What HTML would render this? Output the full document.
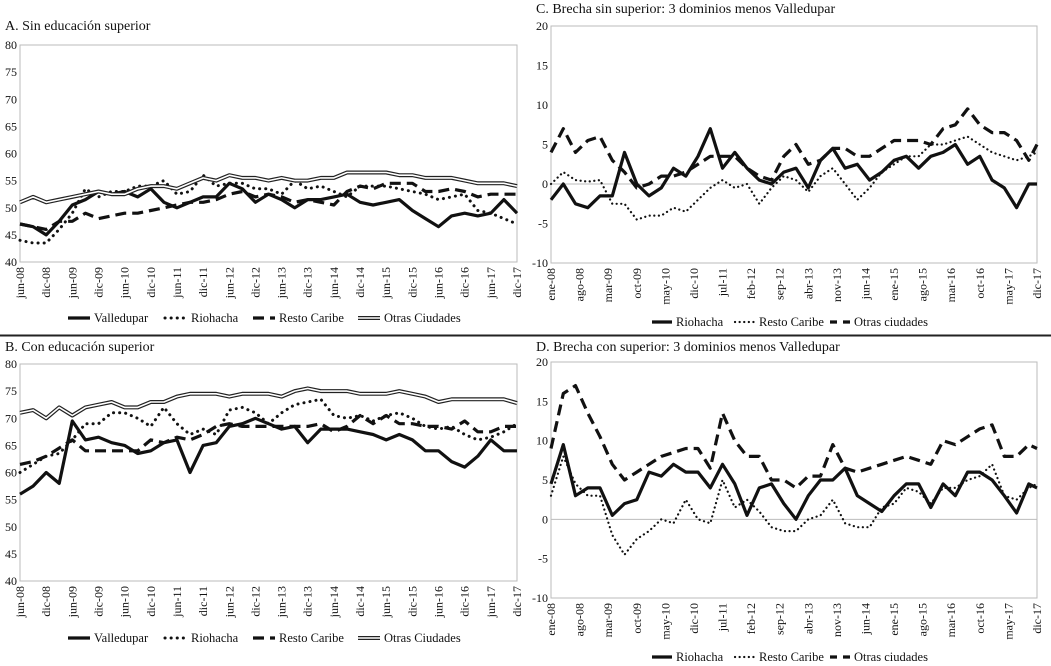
<!DOCTYPE html>
<html><head><meta charset="utf-8"><style>
body{margin:0;background:#fff;}
svg{display:block;font-family:"Liberation Serif",serif;}
</style></head><body>
<svg id="chart" width="1051" height="666" viewBox="0 0 1051 666" xmlns="http://www.w3.org/2000/svg">
<rect x="0" y="0" width="1051" height="666" fill="#fff"/>
<line x1="0" y1="335" x2="1051" y2="335" stroke="#222" stroke-width="1"/>
<line x1="0" y1="336" x2="1051" y2="336" stroke="#222" stroke-width="1"/>
</svg>
<script>
// ---- Panel A/B (quarterly jun-08 .. dic-17) ----
const abTickLabels = ["jun-08","dic-08","jun-09","dic-09","jun-10","dic-10","jun-11","dic-11","jun-12","dic-12","jun-13","dic-13","jun-14","dic-14","jun-15","dic-15","jun-16","dic-16","jun-17","dic-17"];
const abYTicks = [40,45,50,55,60,65,70,75,80];
const aValledupar = [47,46.5,45,47.5,50.5,51.5,53,52.5,53,52,53.5,51,50,51,52,52,54.5,53.5,51,52.5,51.5,50,51.5,51.5,52,52.5,51,50.5,51,51.5,49.5,48,46.5,48.5,49,48.5,49,51.5,49];
const aRiohacha = [44,43.5,43.5,46,49,53.5,52,53,53,54,54,55,52.5,53,56,54,54.5,54.5,53.5,53.5,52.5,55,53.5,54,53,52,54,54,54,53.5,53,52.5,51.5,52,52.5,49.5,49,48,47];
const aResto = [47,46.5,46,47.5,47.5,49,48,48.5,49,49,49.5,50,50.5,51,51,51.5,52.5,53,52,52.5,52,51,51.5,51,50.5,53,54,53.5,54.5,54.5,54.5,53,53,53.5,53,52,52.5,52.5,52.5];
const aOtras = [51,52,51,51.5,52,52.5,53,52.5,52.5,53.5,54,54,53.5,54.5,55.5,55,56,55.5,55.5,55,55.5,55,55,55.5,55.5,56.5,56.5,56.5,56.5,56,56,55.5,55.5,55.5,55,54.5,54.5,54.5,54];
const bValledupar = [56,57.5,60,58,69.5,66,66.5,65.5,65,63.5,64,65.5,66,60,65,65.5,68.5,69,70,69,68,68.5,65.5,68,68,68,67.5,67,66,67,66,64,64,62,61,63,66,64,64];
const bRiohacha = [60,61.5,63,63.5,66,69,69,71,71,70,68.5,72,69,67,68,67,71.5,72,71,69,71,72.5,73,73.5,70.5,70,70.5,69.5,70.5,71,70,68.5,68,68.5,67,66,66.5,67.5,69];
const bResto = [61.5,62,63,64.5,66,64,64,64,64,64,66,65.5,66.5,66,67,68.5,69,68.5,68.5,68.5,68.5,68.5,68.5,69,67.5,68.5,70.5,69,70.5,69,69,68.5,68.5,68,69.5,67.5,67.5,68.5,68.5];
const bOtras = [71,71.5,70,72,70.5,72,72.5,73,72,72,73,73,74,74.5,74.5,74.5,74,74.5,74.5,74.5,74,75,75.5,75,75,75,74.5,74.5,74.5,75,74.5,74,73,73.5,73.5,73.5,73.5,73.5,72.8];
// ---- Panel C/D (quarterly ene-08 .. oct-17, then dic-17) ----
const cdTickLabels = ["ene-08","ago-08","mar-09","oct-09","may-10","dic-10","jul-11","feb-12","sep-12","abr-13","nov-13","jun-14","ene-15","ago-15","mar-16","oct-16","may-17","dic-17"];
const cdYTicks = [-10,-5,0,5,10,15,20];
const cRiohacha = [-2,0,-2.5,-3,-1.5,-1.5,4,0,-1.5,-0.5,2,1,3.5,7,2,4,2,0.5,0,1.5,2,-0.5,3,4.5,2,2.5,0.5,1.5,3,3.5,2,3.5,4,5,2.5,3.5,0.5,-0.5,-3,0,0];
const cResto = [0,1.5,0.5,0.3,0.5,-2.5,-2.5,-4.5,-4,-4,-3,-3.5,-2,-0.5,0.5,-0.5,0,-2.5,-0.5,1,0.5,-1,1,2,0,-2,-0.5,1.5,2.5,3.5,3.5,5,5,5.5,6,5,4,3.5,3,3.5,4];
const cOtras = [4,7,4,5.5,6,3,1.5,-0.5,0,1,1,1.5,2.5,3.5,3.5,3.5,2,1,0.5,3.5,5,2.5,3,4.5,4.5,3.5,3.5,4.5,5.5,5.5,5.5,5,7,7.5,9.5,7.5,6.5,6.5,5.5,3,5];
const dRiohacha = [4.5,9.5,3,4,4,0.5,2,2.5,6,5.5,7,6,6,4,7,4.5,0.5,4,4.5,2,0,3,5,5,6.5,3,2,1,3,4.5,4.5,1.5,4.5,3,6,6,5,3,0.8,4.5,4];
const dResto = [3,8,4.5,3,3,-2,-4.5,-2.5,-1.5,0,-0.5,2.5,0,-0.5,5,1.5,2.5,1,-1,-1.5,-1.5,0,0.5,2.5,-0.5,-1,-1,1.5,2,4,3.5,2,4,4,5,5.5,7,3,2.5,4,4.5];
const dOtras = [9,16,17,13.5,10.5,7,5,6,7,8,8.5,9,9,6.5,13.5,10,8,8,5,5,4,5.5,5.5,9.5,6.5,6,6.5,7,7.5,8,7.5,7,10,9.5,10.5,11.5,12,8,8,9.5,9];

const NS = "http://www.w3.org/2000/svg";
const svg = document.getElementById("chart");
function mk(tag, attrs, parent){
  const e = document.createElementNS(NS, tag);
  for (const k in attrs) e.setAttribute(k, attrs[k]);
  (parent||svg).appendChild(e);
  return e;
}
function txt(str, attrs, parent){ const t = mk("text", attrs, parent); t.textContent = str; return t; }

const styles = {
  solid: [{stroke:"#111", w:3.2, dash:null}],
  dotted: [{stroke:"#111", w:3, dash:"0.1 6", cap:"round"}],
  finedot: [{stroke:"#111", w:2.2, dash:"0.1 4.5", cap:"round"}],
  dashed: [{stroke:"#111", w:3.2, dash:"11 6"}],
  double: [{stroke:"#222", w:4, dash:null},{stroke:"#fff", w:1.6, dash:null}]
};

function panel(p){
  const g = mk("g", {});
  
  
  const t = txt(p.title, {x:p.left-15, y:p.titleY, "font-size":14, fill:"#111"}, g);
  
  
  const ymin = p.yTicks[0], ymax = p.yTicks[p.yTicks.length-1];
  const yS = v => p.bottom - (v - ymin)/(ymax - ymin)*(p.bottom - p.top);
  const nMonths = p.nMonths;
  const xS = m => p.left + m/(nMonths-1)*(p.right - p.left);
  const frame = mk("rect", {x:p.left, y:p.top, width:p.right-p.left, height:p.bottom-p.top, fill:"none", stroke:"#bbb", "stroke-width":1}, g);
  
  
  p.yTicks.forEach(v=>{
    const l = txt(String(v), {x:p.left-3, y:yS(v)+4, "font-size":12, "text-anchor":"end", fill:"#111"}, g);
    
    
  });
  if (ymin < 0) {
    const z = mk("line", {x1:p.left, x2:p.right, y1:yS(0), y2:yS(0), stroke:"#bbb", "stroke-width":1}, g);
    
    
  }
  const nT = p.xTicks.length;
  p.xTicks.forEach((lab,i)=>{
    const m = i*(nMonths-1)/(nT-1);
    const x = xS(m);
    const l = txt(lab, {transform:`translate(${x+4},${p.bottom+5}) rotate(-90)`, "font-size":12, "text-anchor":"end", fill:"#111"}, g);
    
    
  });
  p.series.forEach(s=>{
    const pts = s.data.map((v,k)=>{
      const m = Math.min(k*3, nMonths-1);
      return xS(m).toFixed(1)+","+yS(v).toFixed(1);
    }).join(" ");
    styles[s.style].forEach(st=>{
      const pl = mk("polyline", {points:pts, fill:"none", stroke:st.stroke, "stroke-width":st.w, "stroke-linejoin":"round", "stroke-linecap":st.cap||"butt"}, g);
      if (st.dash) pl.setAttribute("stroke-dasharray", st.dash);
      
      
    });
  });
  const lg = mk("g", {}, g);
  
  
  p.legend.forEach((it)=>{
    const x0 = it.x, y = p.legendY;
    styles[it.style].forEach(st=>{
      const l = mk("line", {x1:x0, x2:x0+ it.len, y1:y-4, y2:y-4, stroke:st.stroke, "stroke-width":st.w, "stroke-linecap":st.cap||"butt"}, lg);
      if (it.dash) l.setAttribute("stroke-dasharray", it.dash);
      else if (st.dash) l.setAttribute("stroke-dasharray", st.dash);
    });
    const tt = txt(it.label, {x:x0+it.len+4, y:y, "font-size":12.5, fill:"#111"}, lg);
    
    
  });
}

const legAB = () => [
  {label:"Valledupar", style:"solid", x:68, len:22},
  {label:"Riohacha", style:"dotted", x:165, len:22},
  {label:"Resto Caribe", style:"dashed", x:253, len:22},
  {label:"Otras Ciudades", style:"double", x:358, len:22}
];
const legCD = [
  {label:"Riohacha", style:"solid", x:652, len:20},
  {label:"Resto Caribe", style:"finedot", x:735, len:20},
  {label:"Otras ciudades", style:"dashed", x:830, len:20, dash:"7 6"}
];

panel({name:"panel-a", title:"A. Sin educación superior", titleY:30, left:20, right:517, top:45, bottom:262, nMonths:115, yTicks:abYTicks, xTicks:abTickLabels, legendY:322, legend:legAB(),
  series:[{key:"valledupar",style:"solid",data:aValledupar},{key:"riohacha",style:"dotted",data:aRiohacha},{key:"resto-caribe",style:"dashed",data:aResto},{key:"otras-ciudades",style:"double",data:aOtras}]});
panel({name:"panel-b", title:"B. Con educación superior", titleY:351, left:20, right:517, top:364, bottom:581, nMonths:115, yTicks:abYTicks, xTicks:abTickLabels, legendY:642, legend:legAB(),
  series:[{key:"valledupar",style:"solid",data:bValledupar},{key:"riohacha",style:"dotted",data:bRiohacha},{key:"resto-caribe",style:"dashed",data:bResto},{key:"otras-ciudades",style:"double",data:bOtras}]});
panel({name:"panel-c", title:"C. Brecha sin superior: 3 dominios menos Valledupar", titleY:13, left:551, right:1037, top:26, bottom:263, nMonths:120, yTicks:cdYTicks, xTicks:cdTickLabels, legendY:326, legend:legCD,
  series:[{key:"riohacha",style:"solid",data:cRiohacha},{key:"resto-caribe",style:"finedot",data:cResto},{key:"otras-ciudades",style:"dashed",data:cOtras}]});
panel({name:"panel-d", title:"D. Brecha con superior: 3 dominios menos Valledupar", titleY:351, left:551, right:1037, top:362, bottom:598, nMonths:120, yTicks:cdYTicks, xTicks:cdTickLabels, legendY:661, legend:legCD,
  series:[{key:"riohacha",style:"solid",data:dRiohacha},{key:"resto-caribe",style:"finedot",data:dResto},{key:"otras-ciudades",style:"dashed",data:dOtras}]});
</script>
</body></html>
